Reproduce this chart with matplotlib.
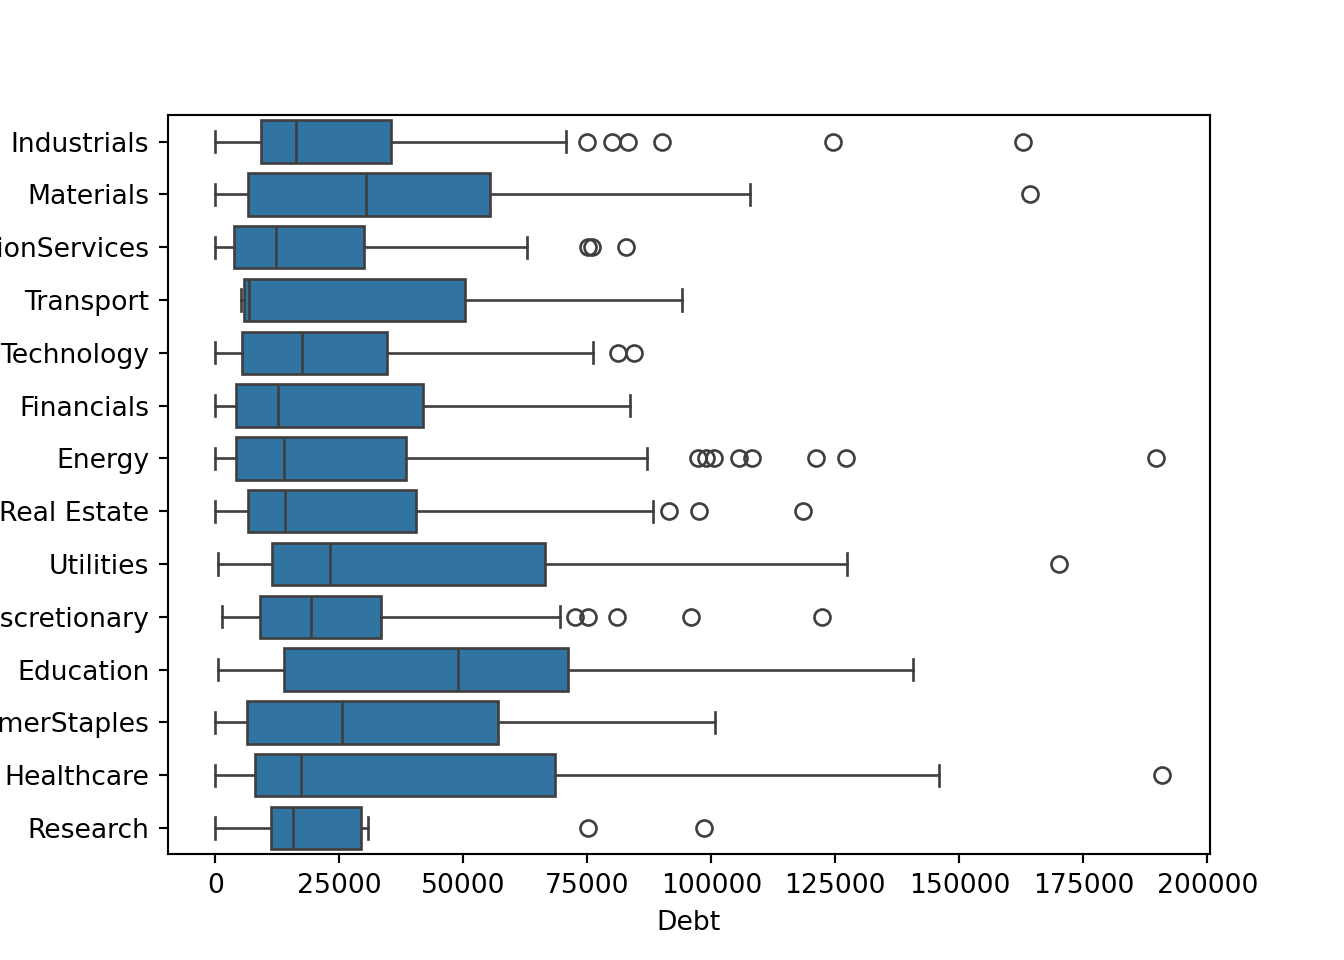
import matplotlib
matplotlib.use("Agg")
import matplotlib.pyplot as plt

sectors = ["Industrials", "Materials", "CommunicationServices", "Transport",
           "Technology", "Financials", "Energy", "Real Estate", "Utilities",
           "ConsumerDiscretionary", "Education", "ConsumerStaples",
           "Healthcare", "Research"]

# box statistics (Debt)
whislo = [0, 0, 0, 5200, 0, 0, 0, 0, 600, 1400, 600, 0, 0, 0]
q1 = [9300, 6650, 3800, 5850, 5450, 4250, 4250, 6650, 11500, 9100, 13900, 6450, 8050, 11300]
med = [16300, 30450, 12300, 6850, 17550, 12700, 13900, 14100, 23200, 19350, 49000, 25600, 17350, 15700]
q3 = [35500, 55450, 30050, 50400, 34700, 41950, 38500, 40500, 66550, 33450, 71150, 57050, 68550, 29450]
whishi = [70750, 107850, 62900, 94150, 76200, 83650, 87100, 88300, 127400, 69550, 140700, 100800, 145950, 30850]
fliers = [
    [75000, 80050, 83250, 90100, 124600, 162900],
    [164300],
    [75200, 76000, 82850],
    [],
    [81250, 84450],
    [],
    [97400, 99000, 100600, 105650, 108250, 121150, 127200, 189700],
    [91550, 97600, 118550],
    [170150],
    [72600, 75200, 81050, 95950, 122400],
    [],
    [],
    [190900],
    [75200, 98600],
]

stats = []
for i, name in enumerate(sectors):
    stats.append(dict(label=name, whislo=whislo[i], q1=q1[i], med=med[i],
                      q3=q3[i], whishi=whishi[i], fliers=fliers[i]))

line_c = "#3f3f3f"
fig, ax = plt.subplots(figsize=(7, 5))
ax.bxp(stats, positions=range(len(sectors)), vert=False, widths=0.8,
       patch_artist=True, capwidths=0.4,
       boxprops=dict(facecolor="#3274a1", edgecolor=line_c, linewidth=1.0),
       whiskerprops=dict(color=line_c, linewidth=1.0),
       capprops=dict(color=line_c, linewidth=1.0),
       medianprops=dict(color=line_c, linewidth=1.0),
       flierprops=dict(marker="o", markerfacecolor="none",
                       markeredgecolor=line_c, markersize=6, linewidth=0))
ax.set_ylim(len(sectors) - 0.5, -0.5)
ax.set_xlabel("Debt")

fig.savefig("out.png", dpi=192)
